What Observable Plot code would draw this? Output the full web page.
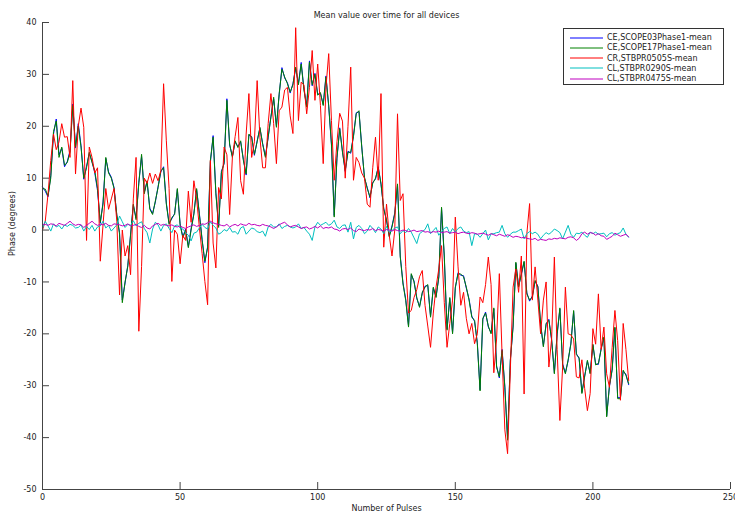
<!DOCTYPE html>
<html>
<head>
<meta charset="utf-8">
<script src="https://cdn.jsdelivr.net/npm/d3@7"></script>
<script src="https://cdn.jsdelivr.net/npm/@observablehq/plot@0.6"></script>
<style>
  body { margin: 0; background: #fff; }
  #wrap { position: relative; width: 735px; height: 513px; font-family: "DejaVu Sans", sans-serif; }
  #legend { position: absolute; left: 563px; top: 28px; width: 161px; height: 57px; border: 1px solid #333; background: #fff; box-sizing: border-box; font-size: 8px; color: #222; }
  .row { position: absolute; left: 0; height: 10px; display: flex; align-items: center; white-space: nowrap; }
  .row svg { margin-left: 6px; margin-right: 4px; }
</style>
</head>
<body>
<div id="wrap"><div id="chart"></div><div id="legend"></div></div>
<script>
const seriesNames = ["CE,SCOPE03Phase1-mean", "CE,SCOPE17Phase1-mean", "CR,STBPR0505S-mean", "CL,STBPR0290S-mean", "CL,STBPR0475S-mean"];
const seriesColors = ["#0000ff", "#008000", "#ff0000", "#00bfbf", "#bf00bf"];

const scope03 = [
8.3, 7.5, 6.4, 10.5, 18.5, 21.4, 14.5, 15.8, 12.2, 13.2,
15.3, 24.3, 15.8, 20.5, 16.3, 9.8, 12.3, 14.8, 13.2, 11,
7.6, 1.3, 5.4, 13.8, 11.2, 10.2, 8.2, 2.8, -0.5, -13.5,
-10.2, -6.8, -0.8, 4.8, 2.3, 9.2, 14.2, 7.3, 9.3, 4.2,
3.2, 5.4, 8.4, 11.2, 12.2, 5.2, 1.3, 2.2, 3.2, 7.8,
1.2, -1.3, 0.2, -3.2, 0.3, 3.2, 7.8, 3.2, -1.8, -6.3,
-3.2, 13, 18.2, 7.2, 0.8, 11.3, 12.8, 25.3, 16.4, 14.2,
17, 16.1, 17, 13.6, 10.6, 18.3, 18, 14.4, 17.2, 19.6,
16.7, 14.2, 17.8, 21.9, 25.3, 20, 26.1, 31.3, 29.3, 28.4,
26.4, 28.2, 31.2, 28.2, 32.3, 27.2, 23.9, 32.6, 27.8, 30.2,
26.2, 26.3, 24.2, 29.7, 23.8, 16.4, 2.8, 13.8, 19.7, 15.2,
11.3, 15.2, 14.8, 18.2, 22.6, 22.8, 16.2, 10, 8.2, 6.2,
9.2, 9.8, 12.2, 8.8, 4.2, 1.8, -1.1, 0.8, 3.3, 8.7,
-5, -10.2, -13.4, -18.5, -8.6, -9.8, -13.2, -14.7, -12.2, -10.8,
-10.7, -16.6, -11.2, -12.8, -9.2, 4.2, -5.2, -19.1, -13.2, -19.8,
-11.2, -8.2, -8.7, -8.8, -11.2, -13.3, -16.6, -17.6, -21.7, -30.8,
-17.2, -15.8, -18.7, -19.8, -15.2, -26.2, -28.5, -23, -30.1, -40.2,
-25.2, -18.5, -6.4, -10.8, -8.6, -6.2, -12.1, -13.7, -12.7, -9.9,
-10.8, -18.2, -22.3, -18.2, -17.2, -21.2, -27.5, -20.2, -15.2, -25.8,
-27.5, -25.2, -21.8, -15.7, -23.8, -24.8, -31.3, -28.1, -25.3, -27.5,
-22.2, -25.8, -25.9, -22.8, -20.8, -35.8, -30.2, -26.8, -18.9, -32.3,
-32.3, -27.2, -27.8, -29.8
];

const scope17 = [
8, 7.9, 6.6, 10, 19, 21, 14, 16, 12.5, 13,
15, 24, 16, 20, 16, 10, 12, 15, 13, 11.4,
8, 1.5, 5, 14, 11, 10, 8, 3, -0.8, -14,
-10, -7, -1, 5, 2, 9, 14.6, 7, 9.5, 4,
3, 5.6, 8.2, 11.4, 12, 5, 1.1, 2.4, 3, 8,
1, -1.5, 0, -3.4, 0, 3, 8, 3, -2, -6,
-3.4, 13.4, 17.9, 7, 0.5, 11, 13, 25, 16.6, 14,
17.2, 15.9, 17.2, 13.4, 10.8, 18.5, 17.9, 14.6, 17, 19.8,
16.5, 14, 18, 21.7, 25.6, 19.8, 26.3, 31, 29.5, 28.2,
26.6, 28, 31.4, 28, 32, 27, 23.7, 32.4, 28, 30,
26, 26.5, 24, 29.5, 24, 16.6, 2.5, 14, 19.5, 15,
11.5, 15, 15, 18, 22.4, 23, 16, 10.2, 8, 6.4,
9, 10, 12, 9, 4, 2, -1.3, 0.6, 3.1, 8.9,
-5.2, -10.4, -13.6, -18.7, -8.4, -10, -13, -14.9, -12, -11,
-10.5, -16.8, -11, -13, -9, 4.4, -5, -19.3, -13, -20,
-11, -8.4, -8.5, -9, -11, -13.5, -16.8, -17.4, -21.9, -31,
-17, -16, -18.5, -20, -15, -26.4, -28.3, -23.2, -30.3, -40.5,
-25, -18.7, -6.2, -11, -8.4, -6, -12.3, -13.5, -12.9, -9.7,
-11, -18, -22.5, -18, -17.4, -21, -27.7, -20, -15, -26,
-27.7, -25, -22, -15.5, -24, -24.6, -31.5, -28.3, -25.1, -27.7,
-22, -26, -25.7, -23, -20.6, -36, -30, -27, -18.7, -32.5,
-32.5, -27, -28, -29.6
];

const stbpr0505 = [
0, 1.7, 6.9, 13.4, 18.5, 15.5, 17, 20.5, 17.9, 18,
14, 28.8, 10.8, 20, 23.5, 19.8, -2, 16, 14, 11,
12, -6, 1, 8, 4, 6, 8, 1.7, -12.5, 0,
-5, -3, -8.6, 6, 14, -19.5, -7, 10, 9, 11,
9, 10.8, 9.5, 11.5, 28.2, 17.2, 8, -9.9, 0, -0.8,
-6.5, -1, -2, 7.5, 1.5, 9.5, 6, 0.5, -4.5, -9.9,
-14.4, 13.4, -2.5, -7.3, 8.2, 6, 16, 14.5, 3, 14,
18, 21.7, 9.5, 6.9, 18.5, 26.3, 14, 17, 28.8, 17.9,
12, 12, 20.5, 26.3, 20.5, 12.8, 23, 23.7, 27, 27.5,
22, 18.6, 39, 21.1, 28.5, 28, 22.4, 27.5, 34.6, 25,
32, 24, 12.8, 27.5, 34, 21.1, 9.6, 17, 22.5, 21,
10, 20, 31.4, 9.6, 14, 13, 11, 10, 5, 4.4,
12, 17.9, 9.6, 26.3, -3.3, 5, -1, -5, 0, 22.4,
5.7, 7, -7, -16, -15.5, -13, -11.5, -9, -7.8, -14.5,
-18.5, -22.6, -16, -11, -7.5, -3, -14, -22.6, -18, -13.5,
2.5, -7.1, -14.5, -12, -17, -20, -18, -21.9, -20, -12.9,
-14, -10.5, -5.2, -10.5, -27.5, -21, -8.4, -24, -38.5, -43.1,
-27, -11, -7.5, -12, -5, -31.6, -0.7, 5.1, -13.5, -7.1,
-13.5, -20, -13.5, -10, -26.4, -21, -5.2, -23, -36.7, -26.4,
-11, -20, -20.2, -21, -28.3, -28.5, -25, -30.5, -34.8, -31.5,
-19, -22, -12.3, -23, -18.7, -27.7, -30.3, -22.6, -15.5, -21.3,
-32.8, -18, -23, -29
];

const stbpr0290 = [
0.3, 1.7, 0.8, -0.2, 1.2, 0.6, 0.9, 0.2, 1.0, 0.7,
1.1, 0.9, 0.4, 0.5, 1.0, -0.2, 0.7, 0.1, 0.9, -0.2,
0.6, 0.8, 1.7, 0.4, 0.9, -0.2, 0.4, 1.0, 2.7, 1.6,
0.5, 1.1, 0.9, 1.8, 0.8, 1.3, 1.6, 0.3, -0.5, -2.5,
0.2, 1.5, 1.0, -0.2, 0.9, 1.2, 0.3, -0.5, 0.8, 1.0,
0.4, 0.2, -0.5, -1.0, -2.1, -0.6, -0.4, 0.4, 1.1, 0.5,
0.2, 1.6, 0.9, 0.4, -0.8, -0.5, 0.1, -0.2, 0.5, -0.4,
-0.3, -0.8, 0.4, 0.7, -0.8, -0.2, 0.4, 0.2, -0.3, -0.5,
-0.2, -1.2, 0.6, 1.1, 0.6, 0.6, 1.2, 0.3, 0.7, 0.9,
0.6, 0.4, 0.6, 1.2, 0.3, 0.5, -0.2, -0.8, -2.0, 0.6,
1.5, 0.9, 1.2, 1.5, 0.9, 1.2, 1.9, 0.6, 0.3, 0.9,
1.0, -0.4, 1.5, -1.7, 0.5, 0.9, 0.3, -0.7, -0.2, 0.9,
0.3, -0.5, 0.6, 0.2, -0.7, 0.7, -0.4, -0.1, 0.4, 0.6,
-0.7, -0.1, -0.5, 0.3, -0.4, -1.5, -2.6, -0.7, -0.3, 0.1,
1.2, -0.7, -0.1, 0.5, -1.0, -0.3, 0.3, 0.6, -0.7, 0.3,
-0.4, 0.3, 0.6, -0.2, -0.5, -0.3, -3.0, -0.7, -0.8, -1.4,
-0.7, 0.0, -1.9, -0.7, -0.7, -0.5, -0.4, 0.9, -0.7, -1.4,
-0.8, -0.4, -0.4, -0.1, 0.2, -1.7, -0.7, -0.3, -0.7, -0.4,
-0.8, -1.7, -1.0, -0.5, -0.8, -0.4, 0.2, -0.1, -0.5, -1.7,
-0.4, 0.9, -0.8, -1.4, -0.6, -0.7, -0.4, -1.0, -1.4, -0.4,
-0.7, -0.4, -0.8, -0.7, -0.6, -1.3, -0.7, -0.5, -1.0, -0.7,
-0.5, 0.4, -0.8, -1.4
];

const stbpr0475 = [
1.1, 1.1, 0.9, 1.2, 1.1, 0.8, 1.3, 1.1, 0.9, 1.3,
1.7, 1.2, 0.9, 1.1, 1.0, 0.5, 0.9, 1.3, 1.7, 1.2,
0.9, 1.1, 1.0, 1.3, 0.9, 0.8, 1.2, 1.1, 1.0, 0.8,
0.9, 1.2, 0.8, 0.9, 1.1, 0.7, 0.5, 0.9, 0.4, 0.2,
0.8, 1.1, 1.3, 0.9, 1.1, 0.9, 0.8, 1.0, 0.7, 0.6,
0.8, 0.5, 0.3, 0.6, 0.8, 1.0, 0.7, 0.9, 1.2, 1.1,
1.4, 1.7, 1.4, 1.2, 1.1, 0.9, 0.8, 1.1, 0.6, 0.9,
1.1, 0.8, 1.2, 1.0, 0.9, 1.3, 1.0, 1.1, 0.9, 0.8,
1.1, 0.9, 0.8, 0.6, 0.3, 0.6, 1.0, 1.3, 1.5, 1.0,
0.6, 0.8, 0.9, 0.6, 0.3, 0.5, 0.6, 0.2, 0.4, 0.7,
0.4, 0.8, 0.3, 0.5, 0.4, 0.6, 0.2, 0.1, -0.2, 0.2,
0.3, 0.1, 0.4, -0.1, -0.3, 0.2, 0.0, -0.1, 0.1, 0.0,
0.3, -0.1, 0.1, 0.0, -0.2, 0.1, 0.0, -0.2, 0.1, -0.1,
-0.2, 0.0, -0.1, -0.3, -0.2, 0.0, -0.3, -0.2, -0.1, -0.4,
-0.3, -0.5, -0.3, -0.4, -0.2, -0.5, -0.4, -0.3, -0.6, -0.5,
-0.4, -0.7, -0.5, -0.4, -0.6, -0.7, -0.5, -0.6, -0.8, -0.7,
-0.6, -0.8, -1.0, -0.7, -0.9, -1.1, -0.8, -1.0, -1.2, -0.9,
-1.1, -1.4, -1.2, -1.3, -1.5, -1.4, -1.6, -1.7, -1.8, -1.6,
-2.0, -1.8, -1.9, -2.0, -1.7, -1.8, -1.6, -1.7, -1.5, -1.6,
-1.7, -1.4, -1.3, -1.5, -2.0, -1.6, -0.7, -0.4, -0.8, -0.5,
-0.6, -1.0, -0.7, -1.1, -1.2, -1.8, -1.5, -1.2, -0.6, -0.9,
-1.2, -1.0, -0.8, -1.3
];

const xTicks = [0, 50, 100, 150, 200, 250];
const yTicks = [-50, -40, -30, -20, -10, 0, 10, 20, 30, 40];
const titleText = "Mean value over time for all devices";
const xLabel = "Number of Pulses";
const yLabel = "Phase (degrees)";

const allValues = [scope03, scope17, stbpr0505, stbpr0290, stbpr0475];

const W = 735, H = 513;
const mL = 42, mR = 5, mT = 22, mB = 24;
const frameW = W - mL - mR, frameH = H - mT - mB;
const tickLen = 7;
const axisColor = "#444";

const lineMarks = allValues.map((vals, k) =>
  Plot.line(vals, { x: (d, i) => i, y: d => d, stroke: seriesColors[k], strokeWidth: 1 })
);

const chart = Plot.plot({
  width: W, height: H,
  marginLeft: mL, marginRight: mR, marginTop: mT, marginBottom: mB,
  x: { domain: [0, 250] },
  y: { domain: [-50, 40] },
  style: { fontFamily: "DejaVu Sans, sans-serif", fontSize: "8px", background: "#fff", color: "#222", overflow: "visible" },
  marks: [
    ...lineMarks,
    Plot.ruleX([0], { stroke: axisColor }),
    Plot.ruleY([-50], { stroke: axisColor }),
    Plot.tickY(yTicks, { y: d => d, stroke: axisColor, insetRight: frameW - tickLen }),
    Plot.tickX(xTicks, { x: d => d, stroke: axisColor, insetTop: frameH - tickLen }),
    Plot.axisY({ ticks: yTicks, tickSize: 0, tickPadding: 6, label: null, tickFormat: d => String(d) }),
    Plot.axisX({ ticks: xTicks, tickSize: 0, tickPadding: 5, label: null, tickFormat: d => String(d) }),
    Plot.text([titleText], { frameAnchor: "top", dy: -7, lineAnchor: "middle", fill: "#222" }),
    Plot.text([xLabel], { frameAnchor: "bottom", dy: 19, lineAnchor: "middle", fill: "#222" }),
    Plot.text([yLabel], { frameAnchor: "left", dx: -30, rotate: -90, fill: "#222" })
  ]
});
document.getElementById("chart").appendChild(chart);

const legend = document.getElementById("legend");
seriesNames.forEach((name, k) => {
  const row = document.createElement("div");
  row.className = "row";
  row.style.top = (3.5 + k * 10.3) + "px";
  row.innerHTML = `<svg width="33" height="4"><line x1="0" y1="2" x2="33" y2="2" stroke="${seriesColors[k]}" stroke-width="1"/></svg><span>${name}</span>`;
  legend.appendChild(row);
});
</script>
</body>
</html>
